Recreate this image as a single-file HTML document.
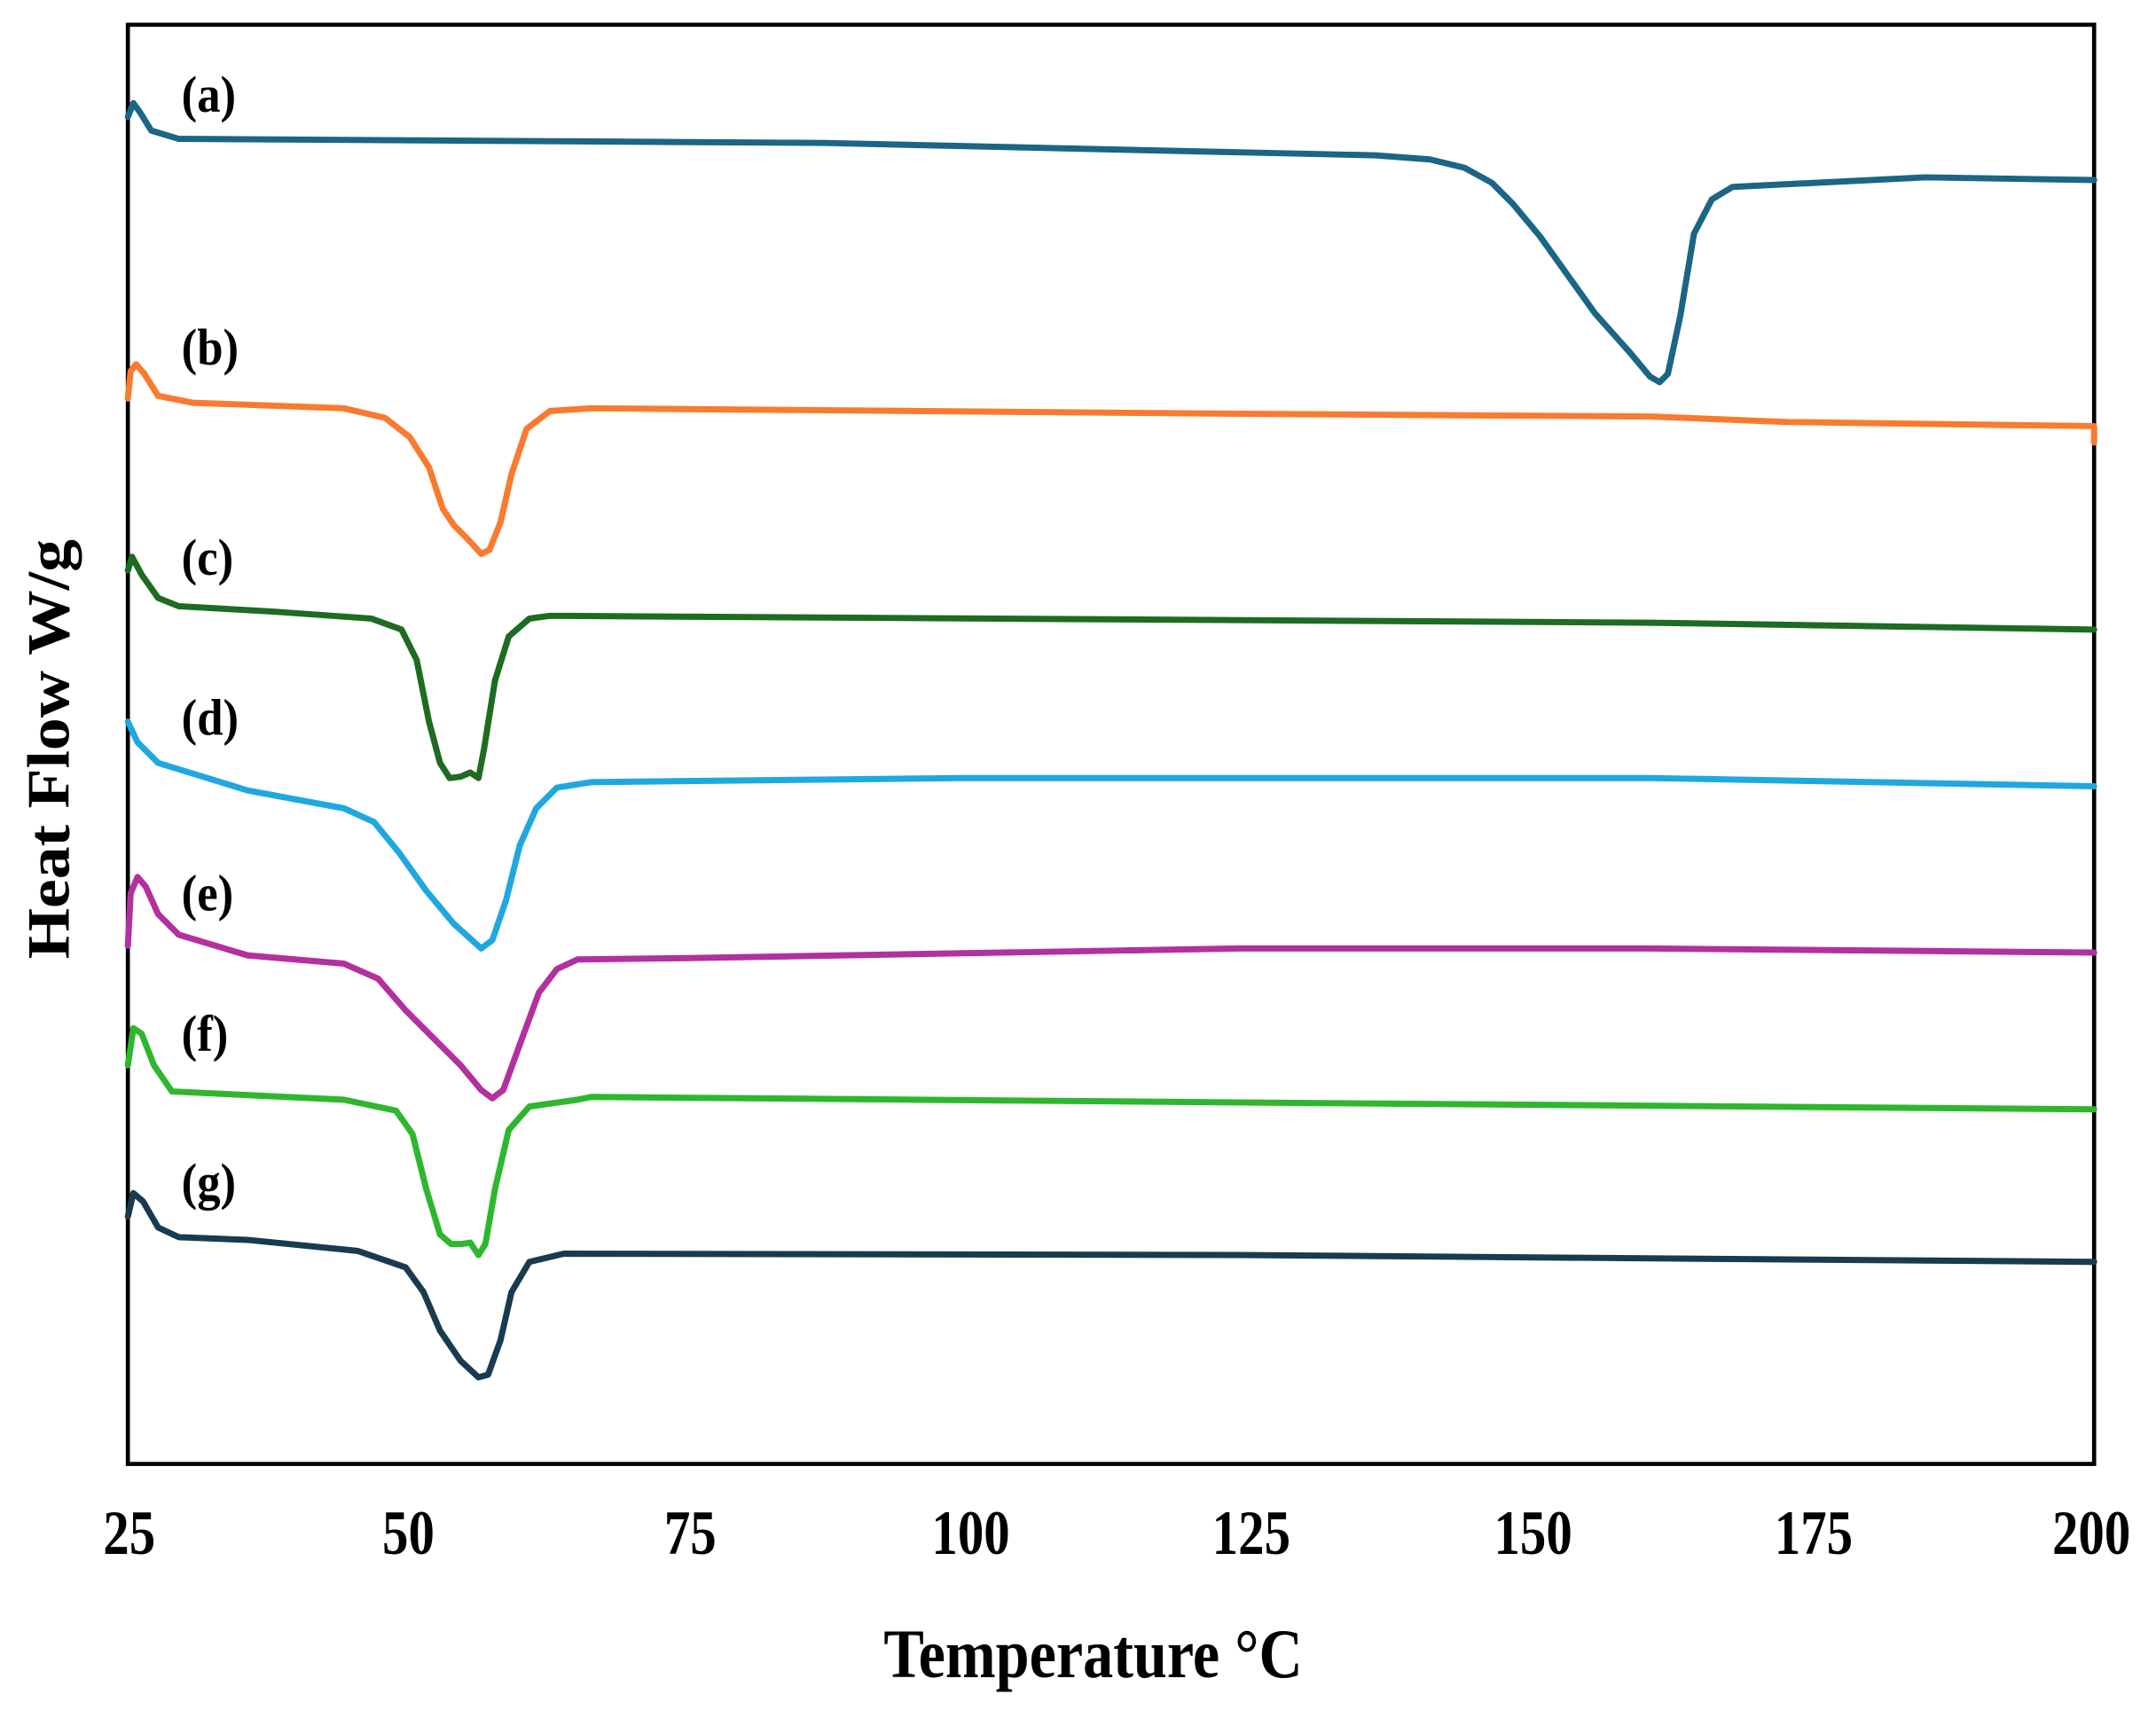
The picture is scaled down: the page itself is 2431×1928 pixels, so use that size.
<!DOCTYPE html>
<html><head><style>html,body{margin:0;padding:0;background:#fff}svg{display:block}</style></head>
<body>
<svg width="2431" height="1928" viewBox="0 0 1568 1244" preserveAspectRatio="none" xmlns="http://www.w3.org/2000/svg">
<rect x="93" y="18" width="1430" height="1047" fill="none" stroke="#000" stroke-width="3"/>
<g fill="none" stroke-width="4.5" stroke-linejoin="round" stroke-linecap="round">
<polyline stroke="#1b6585" points="93,85 97,75 102,82 110,95 130,101 600,104 1000,113 1040,116 1065,122 1085,133 1100,148 1120,172 1140,200 1160,228 1185,256 1200,274 1207,278 1213,272 1222,230 1232,170 1245,145 1260,136 1400,129 1523,131"/>
<polyline stroke="#f97a30" points="93,290 95,270 99,265 105,272 115,288 140,293 250,297 280,304 298,318 312,340 322,370 330,382 340,392 350,403 356,400 364,380 372,345 383,312 400,299 430,297 900,301 1200,303 1300,307 1523,310 1523,322"/>
<polyline stroke="#1e6b22" points="93,415 96,405 103,418 115,435 130,441 200,445 270,450 292,458 303,480 312,525 320,555 327,566 335,565 342,562 348,566 352,545 360,495 370,463 385,450 400,448 1200,453 1523,458"/>
<polyline stroke="#1fa8df" points="93,525 100,540 115,555 180,575 250,588 272,598 290,620 310,648 330,672 350,690 358,684 368,655 378,615 390,588 405,573 430,569 700,566 1200,566 1523,572"/>
<polyline stroke="#b3309d" points="93,688 95,650 100,638 106,645 115,665 130,680 180,695 250,701 275,712 295,735 315,755 335,775 350,793 358,799 366,793 378,760 392,722 405,705 420,698 500,697 900,690 1200,690 1523,693"/>
<polyline stroke="#2eb72e" points="93,775 97,748 103,752 112,775 125,794 250,800 288,808 300,825 310,865 320,898 328,905 336,905 342,904 348,913 353,905 360,865 370,822 385,805 420,800 430,798 900,802 1523,807"/>
<polyline stroke="#1a3a50" points="93,885 97,868 104,874 115,893 130,900 180,902 260,910 295,922 308,940 320,968 335,990 348,1002 355,1000 364,975 372,940 385,918 410,912 900,913 1523,918"/>
</g>
<g font-family="'Liberation Serif',serif" font-weight="bold" fill="#000">
<g font-size="34" transform="scale(1,1.1)">
<text x="132" y="74">(a)</text>
<text x="132" y="241">(b)</text>
<text x="132" y="380">(c)</text>
<text x="132" y="486">(d)</text>
<text x="132" y="602">(e)</text>
<text x="132" y="695">(f)</text>
<text x="132" y="793">(g)</text>
</g>
<g font-size="38" text-anchor="middle" transform="scale(1,1.2)">
<text x="94" y="942">25</text>
<text x="297" y="942">50</text>
<text x="502" y="942">75</text>
<text x="706" y="942">100</text>
<text x="910" y="942">125</text>
<text x="1115" y="942">150</text>
<text x="1319" y="942">175</text>
<text x="1521" y="942">200</text>
</g>
<text transform="translate(795,1220) scale(1,1.15)" font-size="44" text-anchor="middle">Temperature °C</text>
<text transform="translate(50,545) rotate(-90) scale(1.08,1)" font-size="44" text-anchor="middle">Heat  Flow W/g</text>
</g>
</svg>
</body></html>
